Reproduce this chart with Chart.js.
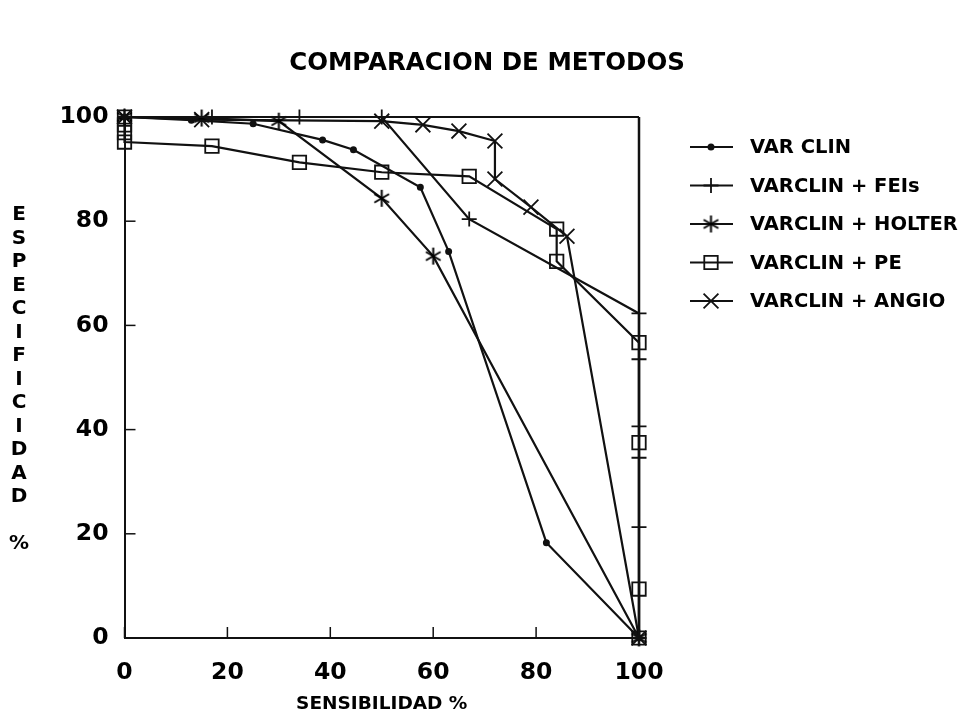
<!DOCTYPE html>
<html><head><meta charset="utf-8">
<script src="https://cdn.jsdelivr.net/npm/chart.js@4/dist/chart.umd.min.js"></script>
<style>html,body{margin:0;padding:0;background:#fff}canvas{display:block}</style>
</head><body>
<canvas id="c" width="974" height="718"></canvas>
<script>
// ---- data ----
const chartTitle = 'COMPARACION DE METODOS';
const xTitle = 'SENSIBILIDAD %';
const yTitleLetters = ['E','S','P','E','C','I','F','I','C','I','D','A','D','','%'];
const seriesNames = ['VAR CLIN','VARCLIN + FEIs','VARCLIN + HOLTER','VARCLIN + PE','VARCLIN + ANGIO'];
const xTickValues = [0,20,40,60,80,100];
const yTickValues = [0,20,40,60,80,100];

const varClinX = [0, 13, 25, 38.5, 44.5, 57.5, 63, 82, 100];
const varClinY = [100, 99.4, 98.7, 95.6, 93.7, 86.5, 74.2, 18.3, 0];

const feisX = [0, 17, 34, 50, 67, 100, 100, 100, 100, 100, 100];
const feisY = [100, 100, 100, 100, 80.4, 62.3, 53.5, 40.6, 34.6, 21.3, 0];

const holterX = [0, 15, 30, 50, 60, 100];
const holterY = [100, 99.8, 99.2, 84.4, 73.3, 0];

const peX = [0, 0, 0, 0, 17, 34, 50, 67, 84, 84, 100, 100, 100, 100];
const peY = [100, 98.5, 97, 95.2, 94.4, 91.3, 89.4, 88.6, 78.5, 72.3, 56.7, 37.5, 9.4, 0];

const angioX = [0, 15, 50, 58, 65, 72, 72, 79, 86, 100];
const angioY = [100, 99.5, 99.2, 98.5, 97.3, 95.4, 88.1, 82.7, 77.1, 0];

// ---- styling ----
const FONT = 'DejaVu Sans';
const INK = '#111';

function makeAsterisk(size){
  const c = document.createElement('canvas');
  c.width = c.height = size;
  const g = c.getContext('2d');
  g.strokeStyle = '#000'; g.lineWidth = 2; g.lineCap = 'butt';
  const cx = size/2, r = size/2 - 1;
  [90, 30, 150].forEach(deg => {
    const a = deg*Math.PI/180;
    g.beginPath();
    g.moveTo(cx - r*Math.cos(a), cx - r*Math.sin(a));
    g.lineTo(cx + r*Math.cos(a), cx + r*Math.sin(a));
    g.stroke();
  });
  return c;
}
const asterisk = makeAsterisk(19);

function pts(xs, ys){ return xs.map((x,i)=>({x, y: ys[i]})); }

const styles = [
  {pointStyle:'circle', radius:2.6, fill:INK},
  {pointStyle:'cross', radius:7.5, fill:'rgba(0,0,0,0)'},
  {pointStyle:asterisk, radius:9, fill:'rgba(0,0,0,0)'},
  {pointStyle:'rect', radius:9.5, fill:'rgba(0,0,0,0)'},
  {pointStyle:'crossRot', radius:10.5, fill:'rgba(0,0,0,0)'}
];
const seriesData = [pts(varClinX,varClinY), pts(feisX,feisY), pts(holterX,holterY), pts(peX,peY), pts(angioX,angioY)];

const datasets = seriesNames.map((name,i)=>({
  label: name,
  data: seriesData[i],
  showLine: true,
  borderColor: INK,
  borderWidth: 2.2,
  pointStyle: styles[i].pointStyle,
  pointRadius: styles[i].radius,
  pointBorderColor: INK,
  pointBackgroundColor: styles[i].fill,
  pointBorderWidth: 1.8,
  tension: 0,
  clip: false
}));

const deco = {
  id: 'deco',
  afterDraw(chart){
    const {ctx, chartArea: a, scales} = chart;
    ctx.save();
    ctx.strokeStyle = INK;
    // top and right frame
    ctx.lineWidth = 2;
    ctx.beginPath(); ctx.moveTo(a.left, a.top); ctx.lineTo(a.right, a.top); ctx.stroke();
    ctx.lineWidth = 2.5;
    ctx.beginPath(); ctx.moveTo(a.right, a.top); ctx.lineTo(a.right, a.bottom); ctx.stroke();
    // inward tick marks
    ctx.lineWidth = 1.5;
    xTickValues.forEach(v=>{
      const px = scales.x.getPixelForValue(v);
      ctx.beginPath(); ctx.moveTo(px, a.bottom); ctx.lineTo(px, a.bottom-11); ctx.stroke();
    });
    yTickValues.forEach(v=>{
      const py = scales.y.getPixelForValue(v);
      ctx.beginPath(); ctx.moveTo(a.left, py); ctx.lineTo(a.left+11, py); ctx.stroke();
    });
    // title
    ctx.fillStyle = '#000';
    ctx.textAlign = 'center'; ctx.textBaseline = 'middle';
    ctx.font = 'bold 24.5px "' + FONT + '"';
    ctx.fillText(chartTitle, 487, 64);
    // vertical stacked y title
    ctx.font = 'bold 20px "' + FONT + '"';
    yTitleLetters.forEach((ch,i)=>{ if(ch) ctx.fillText(ch, 19, 215 + i*23.5); });
    // legend
    ctx.font = 'bold 19.5px "' + FONT + '"';
    ctx.textAlign = 'left';
    chart.data.datasets.forEach((ds,i)=>{
      const y = 147 + i*38.5;
      ctx.strokeStyle = INK; ctx.lineWidth = 2;
      ctx.beginPath(); ctx.moveTo(690, y); ctx.lineTo(733, y); ctx.stroke();
      ctx.fillStyle = ds.pointBackgroundColor; ctx.lineWidth = 1.8;
      Chart.helpers.drawPoint(ctx, {pointStyle: ds.pointStyle, radius: ds.pointRadius, rotation:0, borderWidth:1.8}, 711, y);
      ctx.fillStyle = '#000';
      ctx.fillText(ds.label, 750, y+1);
    });
    ctx.restore();
  }
};

new Chart(document.getElementById('c'), {
  type: 'scatter',
  data: {datasets},
  options: {
    responsive: false,
    animation: false,
    devicePixelRatio: 1,
    layout: {padding: {left: 0, right: 335, top: 117, bottom: 0}},
    plugins: {
      legend: {display: false},
      tooltip: {enabled: false},
      title: {display: false}
    },
    scales: {
      x: {
        type: 'linear', min: 0, max: 100,
        afterBuildTicks: s => { s.ticks = xTickValues.map(v=>({value:v})); },
        afterFit: s => { s.height = 80; },
        grid: {display: false, drawTicks: false},
        border: {display: true, color: INK, width: 2},
        ticks: {color: '#000', padding: 21, font: {family: FONT, size: 23.5, weight: 'bold'}, maxRotation: 0},
        title: {display: true, text: xTitle, color: '#000', font: {family: FONT, size: 18.5, weight: 'bold'}, padding: {top: 0, bottom: 3}}
      },
      y: {
        type: 'linear', min: 0, max: 100,
        afterBuildTicks: s => { s.ticks = yTickValues.map(v=>({value:v})); },
        afterFit: s => { s.width = 124.5; },
        grid: {display: false, drawTicks: false},
        border: {display: true, color: INK, width: 2},
        ticks: {color: '#000', padding: 16, font: {family: FONT, size: 23.5, weight: 'bold'}}
      }
    }
  },
  plugins: [deco]
});
</script>
</body></html>
